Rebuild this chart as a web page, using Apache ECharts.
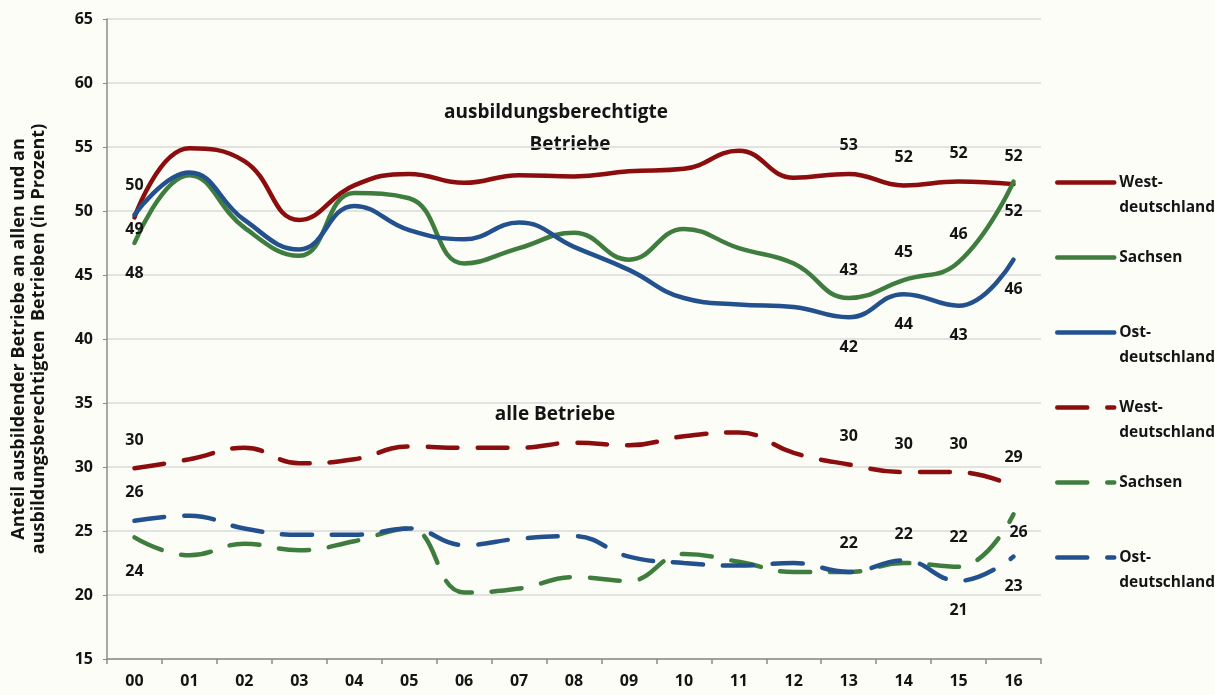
<!DOCTYPE html>
<html>
<head>
<meta charset="utf-8">
<script src="https://cdn.jsdelivr.net/npm/echarts@6/dist/echarts.min.js"></script>
<style>
html,body{margin:0;padding:0;background:#fdfdf8;}
#chart{width:1215px;height:695px;}
</style>
</head>
<body>
<div id="chart"></div>
<script>
// ---- data ----
const years = ['00','01','02','03','04','05','06','07','08','09','10','11','12','13','14','15','16'];

// ausbildungsberechtigte Betriebe (solid)
const westBerechtigt    = [49.5, 54.9, 53.9, 49.3, 52.0, 52.9, 52.2, 52.8, 52.7, 53.1, 53.3, 54.7, 52.6, 52.9, 52.0, 52.3, 52.1];
const sachsenBerechtigt = [47.5, 52.8, 48.7, 46.5, 51.4, 51.0, 45.9, 47.1, 48.3, 46.2, 48.6, 47.1, 45.9, 43.2, 44.6, 46.0, 52.3];
const ostBerechtigt     = [49.7, 53.0, 49.3, 47.0, 50.4, 48.5, 47.8, 49.1, 47.2, 45.4, 43.2, 42.7, 42.5, 41.7, 43.5, 42.6, 46.2];

// alle Betriebe (dashed)
const westAlle    = [29.9, 30.6, 31.5, 30.3, 30.6, 31.6, 31.5, 31.5, 31.9, 31.7, 32.4, 32.7, 31.1, 30.2, 29.6, 29.6, 28.5];
const sachsenAlle = [24.5, 23.1, 24.0, 23.5, 24.2, 25.2, 20.2, 20.5, 21.4, 21.1, 23.2, 22.6, 21.8, 21.8, 22.5, 22.2, 26.3];
const ostAlle     = [25.8, 26.2, 25.2, 24.7, 24.7, 25.2, 23.9, 24.4, 24.6, 23.0, 22.5, 22.3, 22.5, 21.8, 22.7, 21.1, 23.0];

// printed value labels ('' = none)
const westBerechtigtLabels    = ['50','','','','','','','','','','','','','53','52','52','52'];
const sachsenBerechtigtLabels = ['48','','','','','','','','','','','','','43','45','46','52'];
const ostBerechtigtLabels     = ['49','','','','','','','','','','','','','42','44','43','46'];
const westAlleLabels    = ['30','','','','','','','','','','','','','30','30','30','29'];
const sachsenAlleLabels = ['24','','','','','','','','','','','','','22','22','22','26'];
const ostAlleLabels     = ['26','','','','','','','','','','','','','','','21','23'];

const yTicks = {min: 15, max: 65, interval: 5};

// ---- styling ----
const RED = '#8b0d0d', GREEN = '#3f7d3f', BLUE = '#22518e';
const FONT = '"Open Sans", Lato, sans-serif';
const DASH = [30, 20];
const TXT = '#141414';

// label vertical offsets per point (above negative / below positive)
function offsets(map) {
  return years.map((_, i) => map[i] !== undefined ? map[i] : map.d);
}

function build(name, values, labels, color, dashed, offs) {
  return {
    name: name,
    type: 'line',
    smooth: 0.45,
    symbol: 'none',
    z: dashed ? 2 : 3,
    lineStyle: {color: color, width: 4.5, type: dashed ? DASH : 'solid', cap: 'round'},
    itemStyle: {color: color},
    emphasis: {disabled: true},
    data: values.map((v, i) => {
      if (!labels[i]) return v;
      const o = offs[i];
      return {
        value: v,
        symbol: 'circle',
        symbolSize: 0.01,
        label: {
          show: true,
          position: 'inside',
          offset: Array.isArray(o) ? o : [0, o],
          formatter: labels[i],
          color: TXT,
          fontFamily: FONT,
          fontWeight: 'bold',
          fontSize: 16
        }
      };
    })
  };
}

const names = {
  wB: 'West- deutschland (ausbildungsberechtigte Betriebe)',
  sB: 'Sachsen (ausbildungsberechtigte Betriebe)',
  oB: 'Ost- deutschland (ausbildungsberechtigte Betriebe)',
  wA: 'West- deutschland (alle Betriebe)',
  sA: 'Sachsen (alle Betriebe)',
  oA: 'Ost- deutschland (alle Betriebe)'
};
const legendText = {};
legendText[names.wB] = '\nWest-\ndeutschland';
legendText[names.sB] = '\nSachsen\n';
legendText[names.oB] = '\nOst-\ndeutschland';
legendText[names.wA] = '\nWest-\ndeutschland';
legendText[names.sA] = '\nSachsen\n';
legendText[names.oA] = '\nOst-\ndeutschland';

const series = [
  build(names.wA, westAlle, westAlleLabels, RED, true, offsets({d: -28, 16: -29})),
  build(names.sA, sachsenAlle, sachsenAlleLabels, GREEN, true, offsets({d: -29, 0: 34, 16: [5, 18]})),
  build(names.oA, ostAlle, ostAlleLabels, BLUE, true, offsets({d: 30, 0: -28})),
  build(names.wB, westBerechtigt, westBerechtigtLabels, RED, false, offsets({d: -28, 0: -32})),
  build(names.sB, sachsenBerechtigt, sachsenBerechtigtLabels, GREEN, false, offsets({d: -28, 0: 30, 16: 30})),
  build(names.oB, ostBerechtigt, ostBerechtigtLabels, BLUE, false, offsets({d: 30, 0: 15}))
];

const chart = echarts.init(document.getElementById('chart'));
chart.setOption({
  backgroundColor: '#fdfdf8',
  animation: false,
  grid: {left: 107, right: 174, top: 19, bottom: 36, containLabel: false, outerBoundsMode: 'none'},
  legend: {
    orient: 'vertical',
    left: 1055,
    top: 145,
    padding: 0,
    itemWidth: 57,
    itemHeight: 14,
    itemGap: 0,
    selectedMode: false,
    data: [names.wB, names.sB, names.oB, names.wA, names.sA, names.oA],
    formatter: n => legendText[n],
    lineStyle: {width: 4.5},
    itemStyle: {opacity: 0},
    textStyle: {fontFamily: FONT, fontWeight: 'bold', fontSize: 15.5, color: TXT, lineHeight: 25}
  },
  xAxis: {
    type: 'category',
    data: years,
    boundaryGap: true,
    axisLine: {lineStyle: {color: '#8a8a8a', width: 1.5}},
    axisTick: {show: true, length: 5, lineStyle: {color: '#8a8a8a', width: 1.5}},
    axisLabel: {fontFamily: FONT, fontWeight: 'bold', fontSize: 16, color: TXT, margin: 14}
  },
  yAxis: {
    type: 'value',
    min: yTicks.min,
    max: yTicks.max,
    interval: yTicks.interval,
    name: 'Anteil ausbildender Betriebe an allen und an\nausbildungsberechtigten  Betrieben (in Prozent)',
    nameLocation: 'middle',
    nameGap: 58,
    nameTextStyle: {fontFamily: FONT, fontWeight: 'bold', fontSize: 18, color: TXT, lineHeight: 20, align: 'center'},
    axisLine: {show: true, lineStyle: {color: '#8a8a8a', width: 1.5}},
    axisTick: {show: true, length: 4, lineStyle: {color: '#8a8a8a'}},
    axisLabel: {fontFamily: FONT, fontWeight: 'bold', fontSize: 16, color: TXT, margin: 14},
    splitLine: {lineStyle: {color: '#d9d9d9', width: 1.5}}
  },
  graphic: [
    {type: 'text', style: {text: 'ausbildungsberechtigte', fontFamily: FONT, fontWeight: 'bold', fontSize: 19, fill: TXT, x: 556, y: 113, align: 'center', verticalAlign: 'middle'}},
    {type: 'text', style: {text: 'Betriebe', fontFamily: FONT, fontWeight: 'bold', fontSize: 19, fill: TXT, x: 570, y: 145, align: 'center', verticalAlign: 'middle'}},
    {type: 'text', style: {text: 'alle Betriebe', fontFamily: FONT, fontWeight: 'bold', fontSize: 19, fill: TXT, x: 555, y: 415, align: 'center', verticalAlign: 'middle'}}
  ],
  series: series
});
</script>
</body>
</html>
